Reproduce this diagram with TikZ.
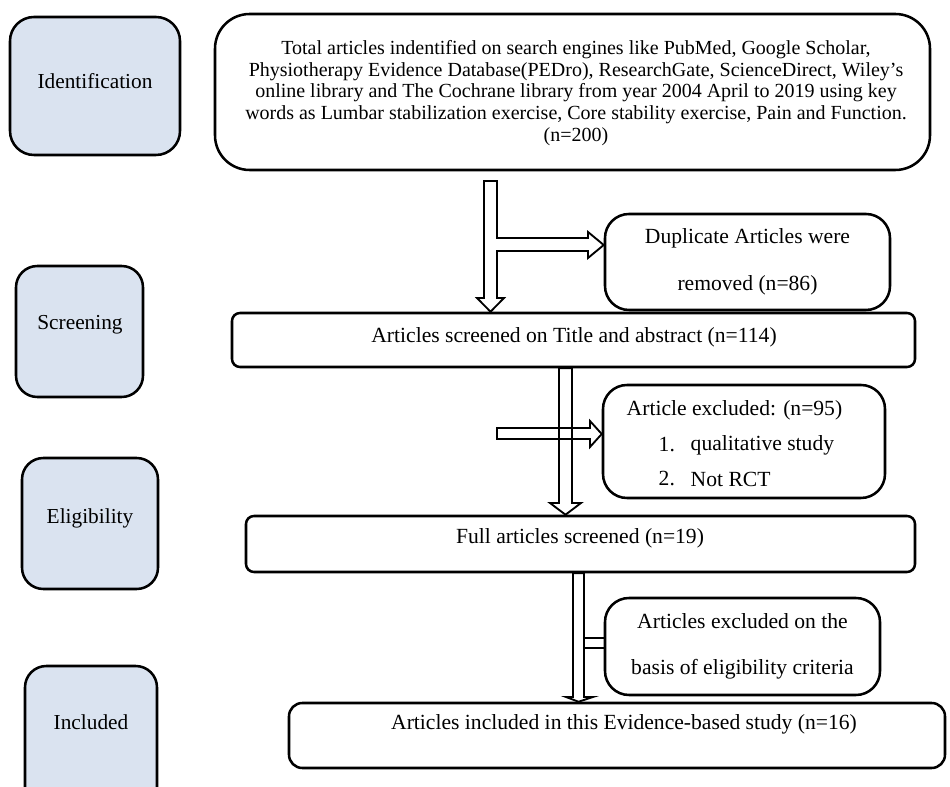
\documentclass[tikz,border=0pt]{standalone}
\usepackage{fontspec}
\setmainfont{Liberation Serif}
\usetikzlibrary{fit}
\definecolor{phase}{HTML}{DAE3F0}
\tikzset{
  x=0.75pt, y=-0.75pt,
  box/.style={draw=black, line width=1.9pt, inner sep=0pt, fill=white},
  phasebox/.style={box, fill=phase},
  phaselabel/.style={font=\fontsize{16}{18}\selectfont},
  txt/.style={font=\fontsize{16.2}{19}\selectfont},
  twoline/.style={font=\fontsize{16.2}{35}\selectfont, align=center},
  blockarrow/.style={draw=black, line width=1.4pt, line join=miter},
}
\begin{document}
\begin{tikzpicture}
\useasboundingbox (0,0) rectangle (950,787);
\begin{scope}
\clip (0,0) rectangle (950,787);
% phase boxes
\node[phasebox, rounded corners=18pt, fit={(10,17)(180,155)}] (ident) {};
\node[phaselabel] at (95,81) {Identification};
\node[phasebox, rounded corners=16pt, fit={(16,266)(143,397)}] (screen) {};
\node[phaselabel] at (80,325) {Screening};
\node[phasebox, rounded corners=16pt, fit={(22,458)(158,589)}] (elig) {};
\node[phaselabel] at (90,518) {Eligibility};
\node[phasebox, rounded corners=16pt, fit={(25,666)(157,815)}] (incl) {};
\node[phaselabel] at (91,722) {Included};
\end{scope}

% flow boxes
\node[box, rounded corners=26pt, fit={(215,14)(930,170)}] (total) {};
\node[font=\fontsize{15}{16.2}\selectfont, align=center, anchor=north] at (576,36) {Total articles indentified on search engines like PubMed, Google Scholar,\\
Physiotherapy Evidence Database(PEDro), ResearchGate, ScienceDirect, Wiley's\\
online library and The Cochrane library from year 2004 April to 2019 using key\\
words as Lumbar stabilization exercise, Core stability exercise, Pain and Function.\\
(n=200)};

\node[box, rounded corners=18pt, fit={(605,214)(890,310)}] (dup) {};
\node[twoline] at (dup.center) {Duplicate Articles were\\removed (n=86)};

\node[box, rounded corners=6pt, fit={(232,313)(915,367)}] (scr) {};
\node[txt] at (574,337) {Articles screened on Title and abstract (n=114)};

\node[box, rounded corners=18pt, fit={(603,385)(885,498)}] (excl) {};
\node[txt, anchor=west] at (622,410) {Article excluded: (n=95)};
\node[txt, anchor=west] at (654,445) {1.};
\node[txt, anchor=west] at (686,445) {qualitative study};
\node[txt, anchor=west] at (654,479) {2.};
\node[txt, anchor=west] at (686,479) {Not RCT};

\node[box, rounded corners=6pt, fit={(246,516)(915,572)}] (full) {};
\node[txt] at (580,538) {Full articles screened (n=19)};

\node[box, rounded corners=18pt, fit={(605,598)(880,695)}] (crit) {};
\node[twoline] at (crit.center) {Articles excluded on the\\basis of eligibility criteria};

\node[box, rounded corners=10pt, fit={(289,703)(945,768)}] (final) {};
\node[txt] at (624,724) {Articles included in this Evidence-based study (n=16)};

% block arrow 1: total -> scr with branch to dup
\draw[blockarrow] (484,181) -- (497,181) -- (497,238) -- (588,238) -- (588,232)
  -- (dup.west |- 0,245) -- (588,258) -- (588,251) -- (497,251) -- (497,298)
  -- (504,298) -- (490.5,0 |- scr.north) -- (477,298) -- (484,298) -- cycle;

% block arrow 2: scr -> full
\draw[blockarrow] (559,0 |- scr.south) -- (572,0 |- scr.south) -- (572,503) -- (581,503)
  -- (565.5,0 |- full.north) -- (550,503) -- (559,503) -- cycle;
% side arrow to excl
\draw[blockarrow] (497,428) -- (590,428) -- (590,421) -- (excl.west |- 0,434)
  -- (590,447) -- (590,439) -- (497,439) -- cycle;

% block arrow 3: full -> final
\draw[blockarrow] (573,0 |- full.south) -- (584,0 |- full.south) -- (584,697) -- (593,697)
  -- (578.5,0 |- final.north) -- (566,697) -- (573,697) -- cycle;
\draw[blockarrow] (584,638) -- (crit.west |- 0,638);
\draw[blockarrow] (584,648) -- (crit.west |- 0,648);
\end{tikzpicture}
\end{document}
